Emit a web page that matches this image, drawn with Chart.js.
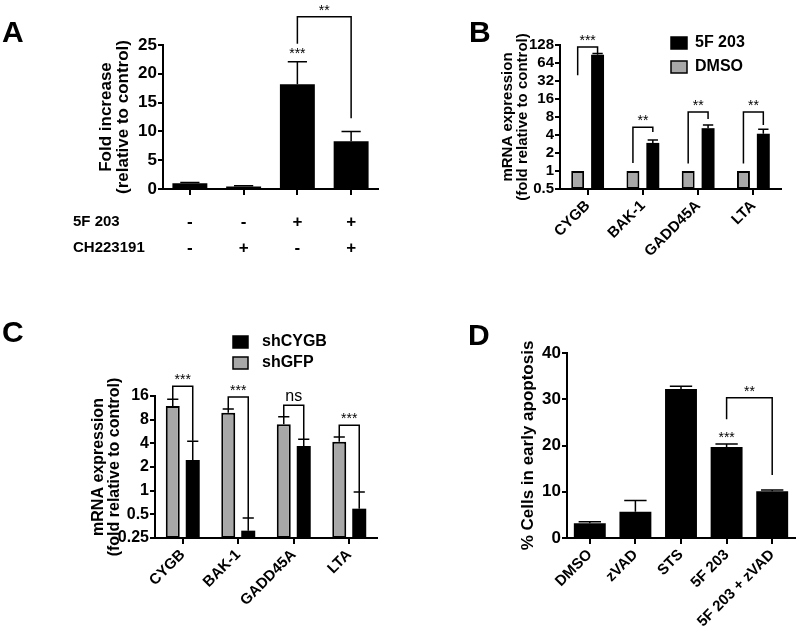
<!DOCTYPE html>
<html>
<head>
<meta charset="utf-8">
<script src="https://cdn.jsdelivr.net/npm/chart.js@4.4.1/dist/chart.umd.min.js"></script>
<style>
  body { margin: 0; background: #fff; }
  .panel { position: absolute; width: 400px; height: 317px; }
</style>
</head>
<body>
<div class="panel" style="left:0;top:0"><canvas id="chartA"></canvas></div>
<div class="panel" style="left:400px;top:0"><canvas id="chartB"></canvas></div>
<div class="panel" style="left:0;top:317px"><canvas id="chartC"></canvas></div>
<div class="panel" style="left:400px;top:317px"><canvas id="chartD"></canvas></div>
<script>
// panel A
const aTreat5F = ["-", "-", "+", "+"];
const aTreatCH = ["-", "+", "-", "+"];
const aRowNames = ["5F 203", "CH223191"];
const aFold = [1.0, 0.45, 18.2, 8.3];
const aErr = [0.12, 0.12, 3.9, 1.7];
const aStars = ["", "", "***", ""];

// panel B
const genes = ["CYGB", "BAK-1", "GADD45A", "LTA"];
const bTicks = [0.5, 1, 2, 4, 8, 16, 32, 64, 128];
const bDMSO = [1, 1, 1, 1];
const b5F = [88, 2.95, 5.2, 4.2];
const b5FErr = [4, 0.35, 0.7, 0.8];
const bSig = ["***", "**", "**", "**"];
const bBracketTop = [118, 5.4, 9.7, 9.7];
const bBracketLeft = [40, 1.36, 1.33, 1.33];
const bBracketRight = [94, 4.5, 7.4, 5.9];

// panel C
const cTicks = [0.25, 0.5, 1, 2, 4, 8, 16];
const cGFP = [11.9, 9.8, 7.0, 4.2];
const cGFPErr = [2.6, 1.1, 1.7, 0.6];
const cCYGB = [2.45, 0.31, 3.7, 0.59];
const cCYGBErr = [1.8, 0.14, 0.8, 0.37];
const cSig = ["***", "***", "ns", "***"];
const cBracketTop = [21.3, 15.5, 12.2, 6.8];
const cBracketLeft = [14.6, 10.9, 8.7, 4.8];
const cBracketRight = [4.3, 0.45, 4.5, 0.96];

// panel D
const dGroups = ["DMSO", "zVAD", "STS", "5F 203", "5F 203 + zVAD"];
const dPct = [3.2, 5.7, 32.2, 19.7, 10.1];
const dErr = [0.3, 2.4, 0.6, 0.6, 0.3];
const dStars = ["", "", "", "***", ""];

const FONT = '"Liberation Sans", Arial, Helvetica, sans-serif';
const GRAY = "#a8a8a8";
Chart.defaults.font.family = FONT;
Chart.defaults.color = "#000";
Chart.defaults.animation = false;

// error bars, significance brackets, legend boxes and panel letter
function makeExtras(cfg) {
  return {
    id: "extras",
    afterDraw(chart) {
      const ctx = chart.ctx;
      const y = chart.scales.y;
      const bar = (d, i) => chart.getDatasetMeta(d).data[i];
      ctx.save();
      ctx.strokeStyle = "#000";
      ctx.fillStyle = "#000";
      ctx.lineWidth = 1.5;

      (cfg.errors || []).forEach((errs, d) => {
        if (!errs) return;
        chart.data.datasets[d].data.forEach((v, i) => {
          const el = bar(d, i);
          const top = y.getPixelForValue(v + errs[i]);
          const half = (el.width * cfg.cap) / 2;
          ctx.beginPath();
          ctx.moveTo(el.x, el.y);
          ctx.lineTo(el.x, top);
          ctx.moveTo(el.x - half, top);
          ctx.lineTo(el.x + half, top);
          ctx.stroke();
        });
      });

      if (cfg.stars) {
        const s = cfg.stars;
        ctx.font = "14px " + FONT;
        ctx.textAlign = "center";
        ctx.textBaseline = "alphabetic";
        s.labels.forEach((t, i) => {
          if (!t) return;
          const v = chart.data.datasets[0].data[i] + s.errs[i];
          ctx.fillText(t, bar(0, i).x, y.getPixelForValue(v) - s.gap);
        });
      }

      (cfg.brackets || []).forEach((b) => {
        const xa = bar(b.a[0], b.a[1]).x;
        const xb = bar(b.b[0], b.b[1]).x;
        const yt = y.getPixelForValue(b.top);
        ctx.lineWidth = 1.5;
        ctx.beginPath();
        ctx.moveTo(xa, y.getPixelForValue(b.left));
        ctx.lineTo(xa, yt);
        ctx.lineTo(xb, yt);
        ctx.lineTo(xb, y.getPixelForValue(b.right));
        ctx.stroke();
        const ns = b.label === "ns";
        ctx.font = (ns ? "16px " : "14px ") + FONT;
        ctx.textAlign = "center";
        ctx.textBaseline = "alphabetic";
        ctx.fillText(b.label, (xa + xb) / 2, yt - (ns ? 4 : 2));
      });

      if (cfg.rows) {
        const r = cfg.rows;
        const top = chart.scales.x.top + r.offset;
        ctx.font = "bold 15px " + FONT;
        ctx.textAlign = "left";
        ctx.textBaseline = "middle";
        r.names.forEach((n, k) => ctx.fillText(n, r.x, top + r.lh / 2 + k * r.lh));
      }

      if (cfg.legend) {
        const L = cfg.legend;
        ctx.font = "bold 16px " + FONT;
        ctx.textAlign = "left";
        ctx.textBaseline = "middle";
        L.order.forEach((d, k) => {
          const ds = chart.data.datasets[d];
          const by = L.y[k];
          ctx.fillStyle = ds.backgroundColor;
          ctx.fillRect(L.x, by - L.h / 2, L.w, L.h);
          ctx.lineWidth = 1.5;
          ctx.strokeStyle = "#000";
          ctx.strokeRect(L.x, by - L.h / 2, L.w, L.h);
          ctx.fillStyle = "#000";
          ctx.fillText(ds.label, L.textX, by);
        });
      }

      ctx.font = "bold 30px " + FONT;
      ctx.textAlign = "left";
      ctx.textBaseline = "alphabetic";
      ctx.fillText(cfg.letter.text, cfg.letter.x, cfg.letter.y);
      ctx.restore();
    },
  };
}

function axes(o) {
  const y = {
    grid: { display: true, drawOnChartArea: false, drawTicks: true, tickLength: 5, color: "#000", lineWidth: 2 },
    border: { display: true, color: "#000", width: 2 },
    title: {
      display: true,
      text: o.title,
      color: "#000",
      padding: 0,
      font: { family: FONT, weight: "bold", size: o.titleSize, lineHeight: o.titleLh },
    },
    ticks: Object.assign(
      { color: "#000", padding: 2, autoSkip: false, font: { family: FONT, weight: "bold", size: o.tickSize } },
      o.yTicks || {}
    ),
    afterFit: (s) => { s.width = o.yw; },
  };
  Object.assign(y, o.y);
  return {
    x: {
      offset: true,
      grid: { display: true, drawOnChartArea: false, drawTicks: true, tickLength: 6, offset: false, color: "#000", lineWidth: 2 },
      border: { display: true, color: "#000", width: 2 },
      ticks: Object.assign(
        { color: "#000", autoSkip: false, font: { family: FONT, weight: "bold", size: 15 } },
        o.xTicks
      ),
      afterFit: (s) => { s.height = o.xh; },
    },
    y: y,
  };
}

function logY(ticks) {
  return {
    type: "logarithmic",
    min: ticks[0],
    max: ticks[ticks.length - 1],
    afterBuildTicks: (s) => { s.ticks = ticks.map((v) => ({ value: v })); },
  };
}

const common = { responsive: true, maintainAspectRatio: false, plugins: { legend: { display: false }, tooltip: { enabled: false } } };

// A
new Chart(document.getElementById("chartA"), {
  type: "bar",
  data: {
    labels: aTreat5F.map((s, i) => [s, aTreatCH[i]]),
    datasets: [{ data: aFold, backgroundColor: "#000", borderWidth: 0, barPercentage: 0.65, categoryPercentage: 1 }],
  },
  options: Object.assign({}, common, {
    layout: { padding: { left: 98, right: 22, top: 45, bottom: 0 } },
    scales: axes({
      title: ["Fold increase", "(relative to control)"], titleSize: 17, titleLh: 1.0, tickSize: 17, yw: 65, xh: 128,
      y: { min: 0, max: 25 },
      yTicks: { stepSize: 5, padding: 1 },
      xTicks: { maxRotation: 0, minRotation: 0, padding: 14, font: { family: FONT, weight: "bold", size: 17, lineHeight: "26px" } },
    }),
  }),
  plugins: [makeExtras({
    letter: { text: "A", x: 2, y: 42 },
    cap: 0.55,
    errors: [aErr],
    stars: { labels: aStars, errs: aErr, gap: 4 },
    brackets: [{ a: [0, 2], b: [0, 3], top: 29.9, left: 25.2, right: 12.3, label: "**" }],
    rows: { names: aRowNames, x: 73, offset: 20, lh: 26 },
  })],
});

// B
new Chart(document.getElementById("chartB"), {
  type: "bar",
  data: {
    labels: genes,
    datasets: [
      { label: "DMSO", data: bDMSO, backgroundColor: GRAY, borderColor: "#000", borderWidth: 2, borderSkipped: false, barPercentage: 0.65, categoryPercentage: 0.72 },
      { label: "5F 203", data: b5F, backgroundColor: "#000", borderWidth: 0, barPercentage: 0.65, categoryPercentage: 0.72 },
    ],
  },
  options: Object.assign({}, common, {
    layout: { padding: { left: 100, right: 19, top: 45, bottom: 0 } },
    scales: axes({
      title: ["mRNA expression", "(fold relative to control)"], titleSize: 15, titleLh: 1.0, tickSize: 15, yw: 60, xh: 128,
      y: logY(bTicks),
      yTicks: { callback: (v) => String(v), padding: 1 },
      xTicks: { maxRotation: 45, minRotation: 45, padding: 2 },
    }),
  }),
  plugins: [makeExtras({
    letter: { text: "B", x: 69, y: 42 },
    cap: 0.8,
    errors: [null, b5FErr],
    brackets: genes.map((g, i) => ({ a: [0, i], b: [1, i], top: bBracketTop[i], left: bBracketLeft[i], right: bBracketRight[i], label: bSig[i] })),
    legend: { order: [1, 0], x: 271, w: 16, h: 12, y: [43, 67], textX: 295 },
  })],
});

// C
new Chart(document.getElementById("chartC"), {
  type: "bar",
  data: {
    labels: genes,
    datasets: [
      { label: "shGFP", data: cGFP, backgroundColor: GRAY, borderColor: "#000", borderWidth: 2, borderSkipped: false, barPercentage: 0.7, categoryPercentage: 0.72 },
      { label: "shCYGB", data: cCYGB, backgroundColor: "#000", borderWidth: 0, barPercentage: 0.7, categoryPercentage: 0.72 },
    ],
  },
  options: Object.assign({}, common, {
    layout: { padding: { left: 91, right: 23, top: 79, bottom: 0 } },
    scales: axes({
      title: ["mRNA expression", "(fold relative to control)"], titleSize: 16, titleLh: 1.0, tickSize: 16, yw: 64, xh: 96,
      y: logY(cTicks),
      yTicks: { callback: (v) => String(v), padding: 1 },
      xTicks: { maxRotation: 45, minRotation: 45, padding: 2 },
    }),
  }),
  plugins: [makeExtras({
    letter: { text: "C", x: 2, y: 25 },
    cap: 0.8,
    errors: [cGFPErr, cCYGBErr],
    brackets: genes.map((g, i) => ({ a: [0, i], b: [1, i], top: cBracketTop[i], left: cBracketLeft[i], right: cBracketRight[i], label: cSig[i] })),
    legend: { order: [1, 0], x: 233, w: 15, h: 12, y: [25, 46], textX: 262 },
  })],
});

// D
new Chart(document.getElementById("chartD"), {
  type: "bar",
  data: {
    labels: dGroups,
    datasets: [{ data: dPct, backgroundColor: "#000", borderWidth: 0, barPercentage: 0.7, categoryPercentage: 1 }],
  },
  options: Object.assign({}, common, {
    layout: { padding: { left: 120, right: 5, top: 36, bottom: 0 } },
    scales: axes({
      title: "% Cells in early apoptosis", titleSize: 17, titleLh: 1.0, tickSize: 17, yw: 47, xh: 96,
      y: { min: 0, max: 40 },
      yTicks: { stepSize: 10, padding: 1 },
      xTicks: { maxRotation: 45, minRotation: 45, padding: 2 },
    }),
  }),
  plugins: [makeExtras({
    letter: { text: "D", x: 68, y: 28 },
    cap: 0.7,
    errors: [dErr],
    stars: { labels: dStars, errs: dErr, gap: 2 },
    brackets: [{ a: [0, 3], b: [0, 4], top: 30.3, left: 25.7, right: 13.6, label: "**" }],
  })],
});
</script>
</body>
</html>
